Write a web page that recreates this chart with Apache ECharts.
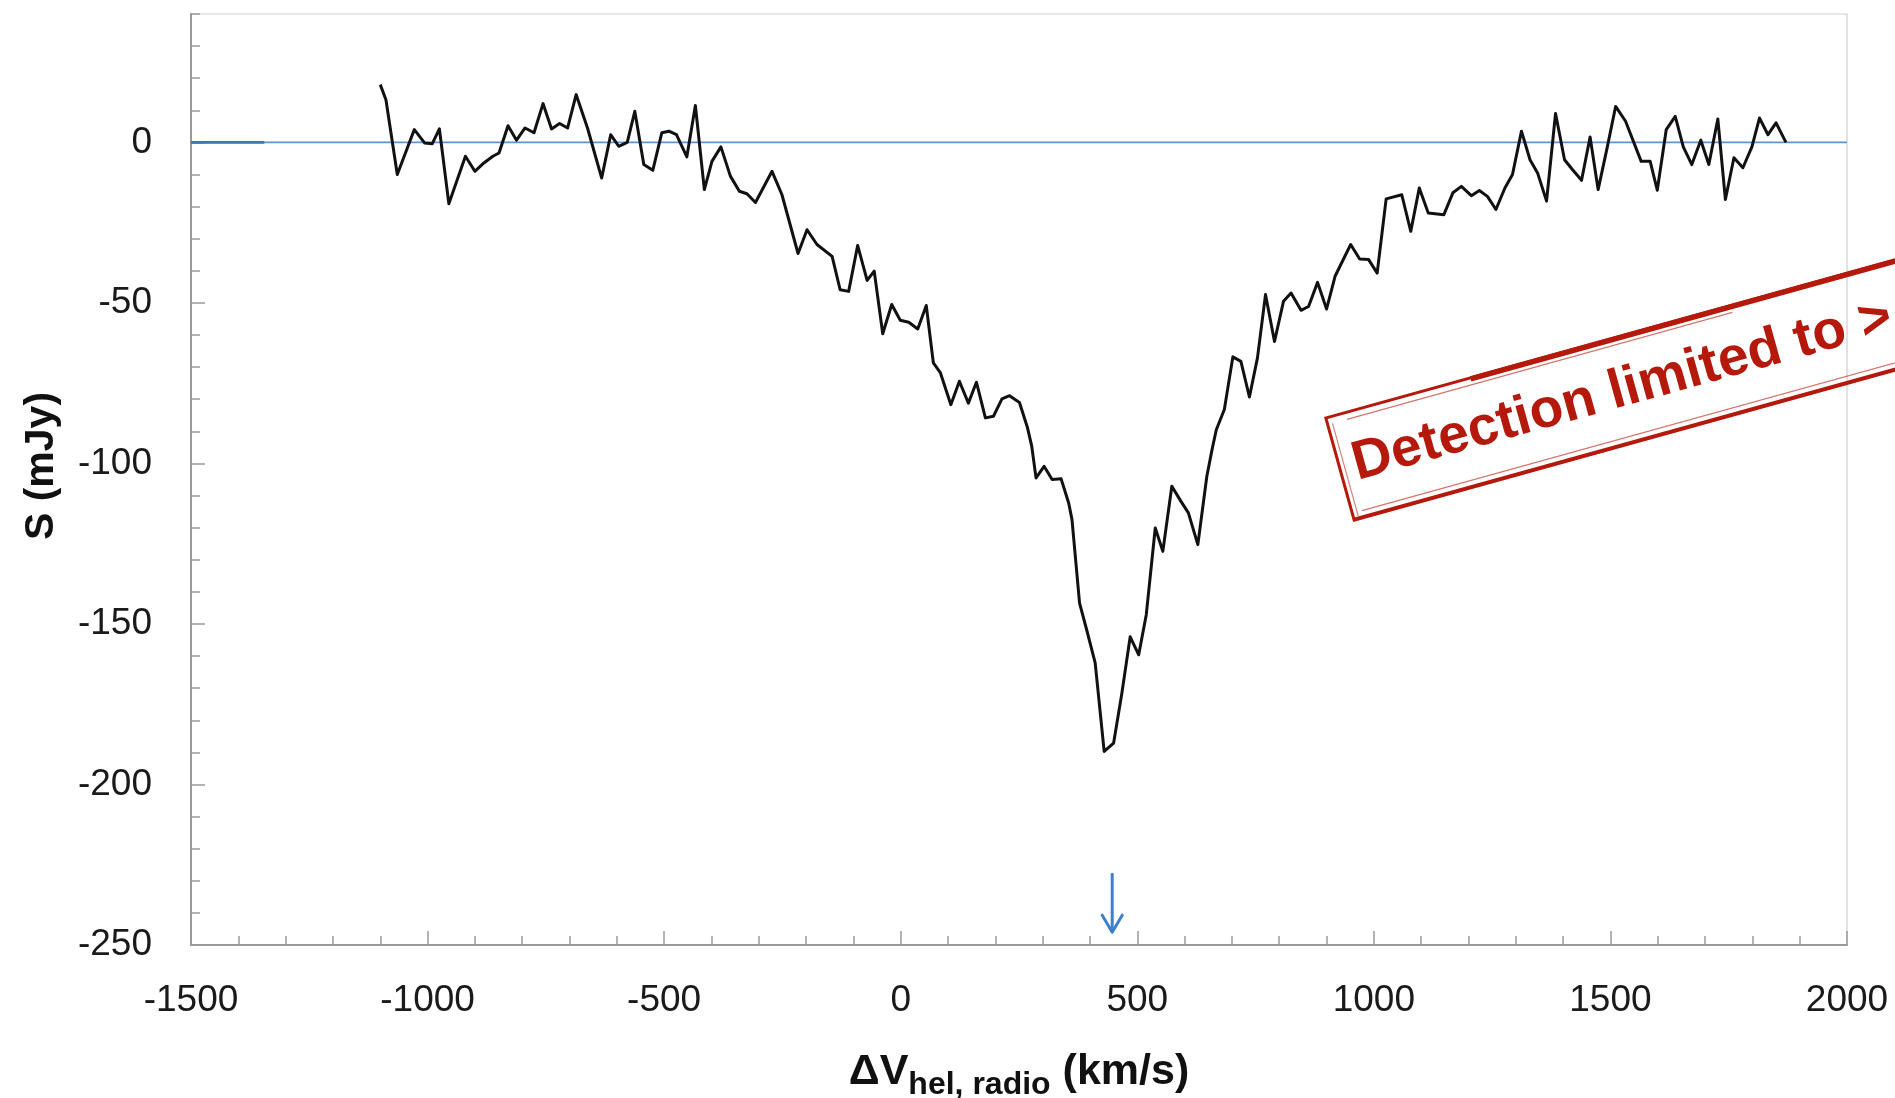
<!DOCTYPE html>
<html>
<head>
<meta charset="utf-8">
<script src="https://cdn.jsdelivr.net/npm/echarts@6/dist/echarts.min.js"></script>
<style>
html,body{margin:0;padding:0;background:#fff;}
#chart{width:1895px;height:1098px;}
</style>
</head>
<body>
<div id="chart"></div>
<script>
// ---- data ----
const velocity = [
 -1100,-1088,-1064,-1028,-1006,-990,-975,-955,-920,-900,-881,-862,-849,-830,-812,-794,-775,-756,-738,-721,
 -704,-686,-662,-632,-613,-596,-578,-562,-543,-524,-505,-490,-474,-452,-434,-415,-399,-380,-360,-341,
 -325,-307,-272,-251,-217,-198,-177,-145,-128,-110,-91,-71,-56,-38,-19,-1,17,36,54,69,
 84,106,124,143,160,179,196,214,230,251,268,277,286,303,320,339,355,362,378,393,
 411,430,450,467,485,503,519,538,554,573,591,608,628,647,658,667,684,702,719,737,
 754,771,790,809,825,846,862,881,900,918,951,970,989,1007,1026,1059,1078,1096,1115,1148,
 1167,1185,1206,1223,1240,1258,1277,1293,1312,1330,1346,1365,1384,1403,1420,1439,1457,1474,1493,1511,
 1532,1565,1584,1599,1618,1637,1654,1672,1691,1708,1727,1743,1761,1780,1799,1815,1833,1850,1871
];
const flux = [
 18.0,13.3,-10.0,4.0,-0.2,-0.4,4.2,-19.1,-4.3,-9.0,-6.4,-4.3,-3.3,5.2,0.7,4.5,3.0,12.1,4.2,5.9,
 4.5,14.9,4.5,-11.1,2.4,-1.2,0.0,9.7,-6.9,-8.7,3.0,3.5,2.4,-4.5,11.5,-14.7,-5.9,-1.4,-10.5,-15.2,
 -16.0,-18.7,-9.0,-16.3,-34.6,-27.2,-31.8,-35.5,-45.9,-46.4,-32.1,-43.0,-40.1,-59.6,-50.5,-55.4,-56.0,-58.1,-50.8,-68.7,
 -71.8,-81.7,-74.4,-81.2,-74.7,-85.8,-85.3,-79.9,-78.9,-81.0,-88.9,-94.7,-104.5,-100.9,-105.0,-104.8,-112.3,-117.5,-143.5,-151.8,
 -162.1,-189.7,-187.1,-172.0,-154.0,-159.6,-147.1,-120.1,-127.4,-107.1,-111.5,-115.4,-125.3,-104.0,-95.7,-89.5,-83.2,-66.8,-68.2,-79.3,
 -67.1,-47.4,-62.0,-49.5,-46.9,-52.3,-51.1,-43.6,-51.9,-41.7,-31.8,-36.3,-36.5,-40.7,-17.6,-16.3,-27.7,-14.2,-22.0,-22.5,
 -15.7,-13.7,-16.6,-15.0,-16.8,-20.9,-14.2,-10.0,3.5,-5.4,-9.5,-18.3,9.0,-5.4,-8.5,-11.8,1.7,-14.7,-1.7,11.2,
 6.6,-5.9,-5.9,-14.9,4.0,8.1,-1.4,-6.9,0.7,-6.9,7.3,-17.8,-4.8,-7.9,-1.4,7.6,2.4,6.1,0.0
];
// zero baseline
const baseX = [-1500, 2000];
const baseY = [0, 0];
const baseStubX = [-1500, -1345];
// arrow marking the expected velocity
const arrowX = 447;
const arrowTop = -228;
const arrowTip = -246;
// axes
const xMin = -1500, xMax = 2000, xStep = 500;
const yMin = -250, yMax = 40, yStep = 50, yMinorStep = 10;
const xTitleMain = 'ΔV', xTitleSub = 'hel, radio', xTitleUnit = ' (km/s)';
const yTitle = 'S (mJy)';
const stampText = 'Detection limited to >';

const spectrum = velocity.map((v, i) => [v, flux[i]]);
const red = '#b5190c';
const axisGray = '#9a9a9a';
const font = 'Liberation Sans';
const plain = v => String(v);

const chart = echarts.init(document.getElementById('chart'), null, {renderer: 'canvas'});
const option = {
  animation: false,
  backgroundColor: '#ffffff',
  grid: {left: 191, right: 48, top: 14, bottom: 153, show: true, borderColor: '#cfcfcf', borderWidth: 1.2, outerBoundsMode: 'none'},
  xAxis: {
    type: 'value', min: xMin, max: xMax, interval: xStep,
    axisLine: {show: true, onZero: false, lineStyle: {color: axisGray, width: 2}},
    axisTick: {show: true, inside: true, length: 14, lineStyle: {color: axisGray, width: 1.5}},
    minorTick: {show: true, splitNumber: 5, length: 9, lineStyle: {color: axisGray, width: 1.5}},
    splitLine: {show: false},
    axisLabel: {fontSize: 37, fontFamily: font, color: '#1a1a1a', margin: 37, formatter: plain},
    name: '{m|' + xTitleMain + '}{s|' + xTitleSub + '}{m|' + xTitleUnit + '}',
    nameLocation: 'middle', nameGap: 106,
    nameTextStyle: {
      rich: {
        m: {fontSize: 43, fontWeight: 'bold', fontFamily: font, color: '#111', lineHeight: 50, verticalAlign: 'top'},
        s: {fontSize: 32, fontWeight: 'bold', fontFamily: font, color: '#111', lineHeight: 20, verticalAlign: 'bottom'}
      }
    }
  },
  yAxis: [
    {
      type: 'value', min: yMin, max: yMax, interval: yMinorStep,
      axisLine: {show: true, onZero: false, lineStyle: {color: axisGray, width: 2}},
      axisTick: {show: true, inside: true, length: 9, lineStyle: {color: axisGray, width: 1.5}},
      axisLabel: {show: false}, splitLine: {show: false}
    },
    {
      type: 'value', min: yMin, max: yMax, interval: yStep, position: 'left',
      axisLine: {show: false, onZero: false},
      axisTick: {show: true, inside: true, length: 14, lineStyle: {color: axisGray, width: 1.5}},
      axisLabel: {fontSize: 37, fontFamily: font, color: '#1a1a1a', margin: 39, showMaxLabel: false, formatter: plain},
      splitLine: {show: false}
    }
  ],
  series: [
    {type: 'line', data: baseX.map((x, i) => [x, baseY[i]]), symbol: 'none', silent: true,
     lineStyle: {color: '#5f93d3', width: 1.8}, z: 1},
    {type: 'line', data: baseStubX.map(x => [x, 0]), symbol: 'none', silent: true,
     lineStyle: {color: '#3e74bd', width: 2.6}, z: 1},
    {type: 'line', data: spectrum, symbol: 'none', silent: true,
     lineStyle: {color: '#111111', width: 3, join: 'round'}, z: 3},
    {type: 'custom', data: [[arrowX, arrowTop, arrowTip]], encode: {x: 0, y: [1, 2]}, silent: true, z: 4,
     renderItem: function (params, api) {
       const a = api.coord([api.value(0), api.value(1)]);
       const b = api.coord([api.value(0), api.value(2)]);
       const st = {stroke: '#3f7fcb', lineWidth: 3, fill: null, lineCap: 'round', lineJoin: 'round'};
       return {type: 'group', children: [
         {type: 'line', shape: {x1: a[0], y1: a[1], x2: b[0], y2: b[1] - 1}, style: st},
         {type: 'polyline', shape: {points: [[b[0] - 10, b[1] - 17], [b[0], b[1]], [b[0] + 10, b[1] - 17]]}, style: st}
       ]};
     }}
  ],
  graphic: [
    {type: 'text', x: 42, y: 466, rotation: Math.PI / 2, z: 10,
     style: {text: yTitle, font: 'bold 41px "Liberation Sans"', fill: '#111', align: 'center', verticalAlign: 'middle'}},
    {type: 'group', x: 1340, y: 469, rotation: 0.2705, z: 20, children: [
      {type: 'rect', shape: {x: 0, y: -53, width: 760, height: 106}, style: {stroke: red, lineWidth: 3, fill: null}},
      {type: 'line', shape: {x1: 150, y1: -52, x2: 760, y2: -52}, style: {stroke: red, lineWidth: 5.5}},
      {type: 'line', shape: {x1: 20, y1: -46, x2: 420, y2: -46}, style: {stroke: red, lineWidth: 1.2, opacity: 0.6}},
      {type: 'line', shape: {x1: 0, y1: 52, x2: 760, y2: 52}, style: {stroke: red, lineWidth: 3}},
      {type: 'line', shape: {x1: 10, y1: 46, x2: 760, y2: 46}, style: {stroke: red, lineWidth: 1.3, opacity: 0.6}},
      {type: 'line', shape: {x1: 5, y1: -46, x2: 5, y2: 50}, style: {stroke: red, lineWidth: 1.2, opacity: 0.55}},
      {type: 'text', x: 14, y: 0, style: {text: stampText, font: 'bold 55px "Liberation Sans"', fill: red, verticalAlign: 'middle', align: 'left'}}
    ]}
  ]
};
chart.setOption(option);
</script>
</body>
</html>
